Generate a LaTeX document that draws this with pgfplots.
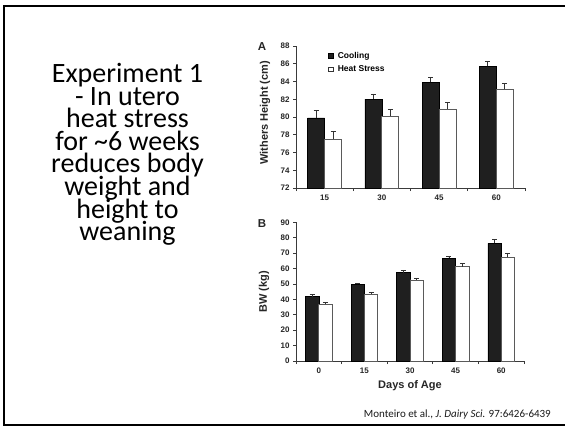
\documentclass[border=0pt]{standalone}
\usepackage{fontspec}
\usepackage{pgfplots}
\pgfplotsset{compat=1.18}
\newfontfamily\arialf{Liberation Sans}
\newfontfamily\calibri{Carlito}
\newcommand\tightlines{\lineskiplimit=-100pt\relax\lineskip=0pt\relax}
\definecolor{barblack}{HTML}{1F1F1F}
\definecolor{axisgray}{HTML}{3A3A3A}
\definecolor{edgegray}{HTML}{5A5A5A}
\pgfplotsset{
  slidebar/.style={
    scale only axis,
    axis lines*=left,
    axis line style={axisgray, line width=0.8pt},
    tick align=outside,
    major tick length=3pt,
    minor tick length=3pt,
    tick style={axisgray, line width=0.8pt},
    major x tick style={draw=none},
    ticklabel style={font=\arialf\bfseries\fontsize{8}{9}\selectfont, text=black!85},
    /pgf/number format/assume math mode=true,
    label style={font=\arialf\bfseries\fontsize{11}{13}\selectfont, text=black!85},
    ybar,
    legend style={draw=none, fill=none, inner sep=0pt, row sep=1.5pt,
      font=\arialf\bfseries\fontsize{8.5}{10}\selectfont, cells={anchor=west},
      /tikz/every odd column/.append style={column sep=2.5pt}},
  },
  coolbar/.style={fill=barblack, draw=black, line width=0.6pt},
  heatbar/.style={fill=white, draw=edgegray, line width=0.8pt},
  errs/.style={error bars/.cd, y dir=plus, y explicit,
    error bar style={line width=0.8pt, color=black!80},
    error mark options={rotate=90, mark size=2.5pt, line width=0.8pt, black!80}},
  legcool/.style={legend image code/.code={\draw[fill=barblack,draw=black,line width=0.5pt] (0pt,-2.3pt) rectangle (4.6pt,2.3pt);}},
  legheat/.style={legend image code/.code={\draw[fill=white,draw=black!80,line width=0.5pt] (0pt,-2.3pt) rectangle (4.6pt,2.3pt);}},
}
\begin{document}
\begin{tikzpicture}
\useasboundingbox (0,0) rectangle (565pt,429pt);
\fill[white] (0,0) rectangle (565pt,429pt);
\draw[line width=2pt, black] (565pt,423pt) -- (4pt,423pt) -- (4pt,4pt) -- (565pt,4pt);

\node[anchor=north, align=center, inner sep=0pt, font=\calibri\fontsize{28}{22.6}\selectfont\tightlines, text=black]
  at (127.5pt,366pt) {Experiment 1\\- In utero\\heat stress\\for \textasciitilde6 weeks\\reduces body\\weight and\\height to\\weaning};

\node[anchor=base east, inner sep=0pt, font=\calibri\fontsize{11}{13}\selectfont, text=black!90]
  at (551pt,12pt) {Monteiro et al., \textit{J. Dairy Sci.} 97:6426-6439};

\node[font=\arialf\bfseries\fontsize{11.5}{13}\selectfont, text=black!85] at (262pt,382pt) {A};
\node[font=\arialf\bfseries\fontsize{11.5}{13}\selectfont, text=black!85] at (262pt,205pt) {B};

% Panel A
\begin{axis}[slidebar,
  at={(296pt,241pt)}, anchor=south west,
  width=229pt, height=142pt,
  xmin=0.5, xmax=4.5, ymin=72, ymax=88,
  ytick={72,74,...,88},
  xtick={1,2,3,4}, xticklabels={15,30,45,60},
  minor xtick={0.5,1.5,2.5,3.5,4.5},
  bar width=17pt,
  ylabel={Withers Height (cm)},
  ylabel style={at={(axis description cs:-0.135,0.53)}, anchor=center},
  legend style={at={(axis description cs:0.14,0.972)}, anchor=north west},
]
\addlegendimage{legcool}\addlegendentry{Cooling}
\addlegendimage{legheat}\addlegendentry{Heat Stress}
\addplot[forget plot, coolbar, bar shift=-8.5pt, errs] coordinates {
  (1,79.9) +- (0,0.8)
  (2,82.0) +- (0,0.6)
  (3,83.9) +- (0,0.6)
  (4,85.7) +- (0,0.6)
};
\addplot[forget plot, heatbar, bar shift=8.5pt, errs] coordinates {
  (1,77.5) +- (0,0.9)
  (2,80.1) +- (0,0.7)
  (3,80.9) +- (0,0.7)
  (4,83.1) +- (0,0.7)
};
\end{axis}

% Panel B
\begin{axis}[slidebar,
  at={(296pt,68pt)}, anchor=south west,
  width=228pt, height=138.7pt,
  xmin=0.5, xmax=5.5, ymin=0, ymax=90,
  ytick={0,10,...,90},
  xtick={1,2,3,4,5}, xticklabels={0,15,30,45,60},
  minor xtick={0.5,1.5,2.5,3.5,4.5,5.5},
  bar width=13.3pt,
  ylabel={BW (kg)},
  ylabel style={at={(axis description cs:-0.14,0.5)}, anchor=center},
  xlabel={Days of Age},
  xlabel style={at={(axis description cs:0.5,-0.18)}, anchor=center},
]
\addplot[coolbar, bar shift=-6.65pt, errs] coordinates {
  (1,41.7) +- (0,1.6)
  (2,49.8) +- (0,0.8)
  (3,57.3) +- (0,1.3)
  (4,66.6) +- (0,1.5)
  (5,76.4) +- (0,2.3)
};
\addplot[heatbar, bar shift=6.65pt, errs] coordinates {
  (1,36.8) +- (0,1.3)
  (2,43.3) +- (0,1.0)
  (3,52.6) +- (0,1.1)
  (4,61.2) +- (0,1.9)
  (5,67.3) +- (0,2.3)
};
\end{axis}
\end{tikzpicture}
\end{document}
